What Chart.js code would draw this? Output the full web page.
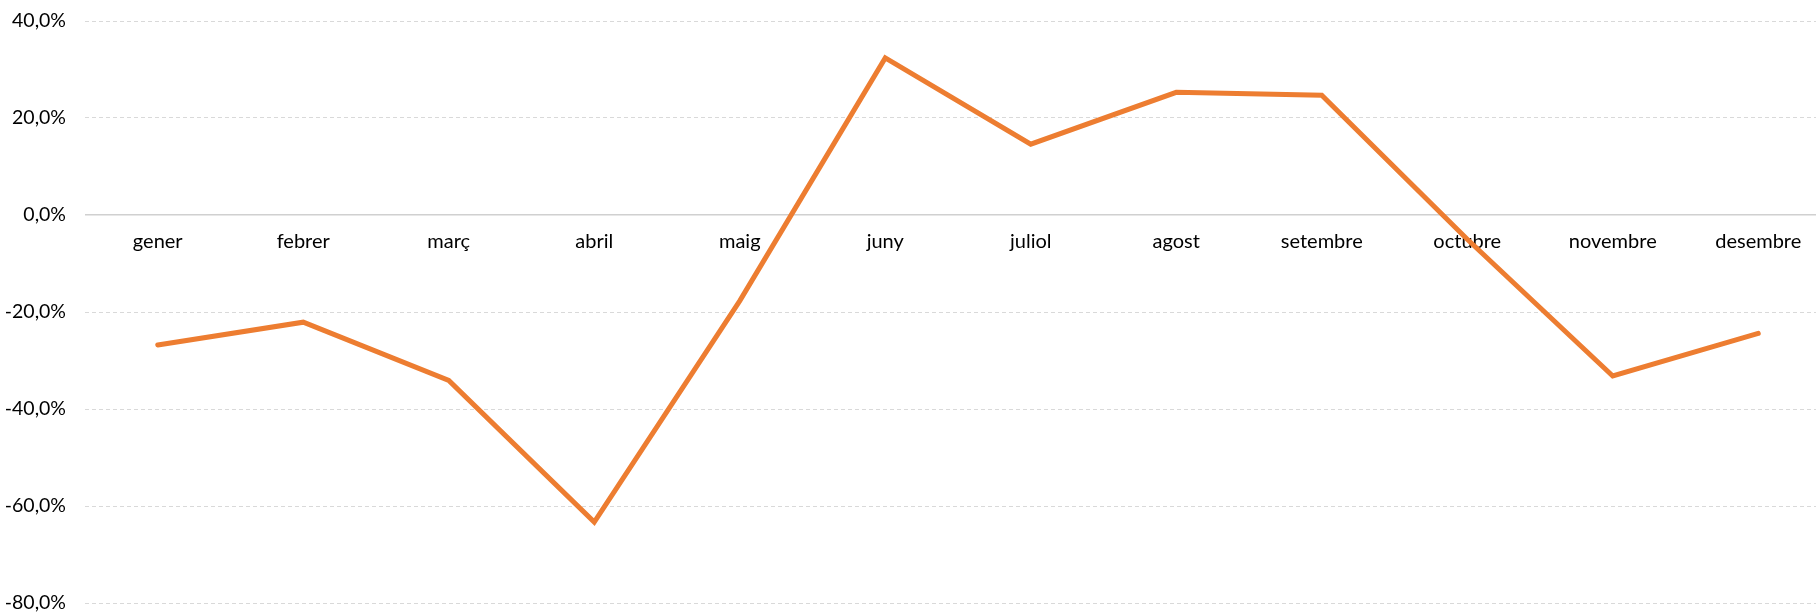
<!DOCTYPE html>
<html>
<head>
<meta charset="utf-8">
<script src="https://cdn.jsdelivr.net/npm/chart.js@4"></script>
<style>
  html, body { margin: 0; padding: 0; overflow: hidden; background: #fff; }
</style>
</head>
<body>
<canvas id="chart" width="1832" height="613"></canvas>
<script>
const months = ['gener', 'febrer', 'març', 'abril', 'maig', 'juny', 'juliol', 'agost', 'setembre', 'octubre', 'novembre', 'desembre'];
const variation = [-26.8, -22.1, -34.1, -63.3, -17.7, 32.4, 14.6, 25.3, 24.7, -5.0, -33.2, -24.4];
const yMin = -80;
const yMax = 40;
const yStep = 20;

const ctx = document.getElementById('chart').getContext('2d');

// chart area is set by layout padding only, not by tick label overhang
const noOverhang = scale => {
  scale.paddingTop = 0;
  scale.paddingBottom = 0;
  scale.paddingLeft = 0;
  scale.paddingRight = 0;
};

const chart = new Chart(ctx, {
  type: 'line',
  data: {
    labels: months,
    datasets: [{
      data: variation,
      borderColor: '#ED7D31',
      borderWidth: 5,
      borderJoinStyle: 'miter',
      borderCapStyle: 'round',
      tension: 0,
      pointRadius: 0,
      fill: false
    }]
  },
  options: {
    responsive: false,
    animation: false,
    layout: {
      padding: { left: 0, right: 1, top: 21, bottom: 10 }
    },
    plugins: {
      legend: { display: false },
      tooltip: { enabled: false }
    },
    scales: {
      x: {
        position: { y: 0 },
        offset: true,
        afterFit: scale => { scale.height = 0; noOverhang(scale); },
        grid: { display: false, drawTicks: false },
        border: { display: false },
        ticks: {
          color: '#000',
          padding: 15,
          maxRotation: 0,
          autoSkip: false,
          font: { family: 'Lato', size: 20 }
        }
      },
      y: {
        min: yMin,
        max: yMax,
        afterFit: scale => { scale.width = 85; noOverhang(scale); },
        grid: {
          drawTicks: false,
          color: c => c.tick && c.tick.value === 0 ? '#d0d0d0' : '#d9d9d9',
          lineWidth: c => c.tick && c.tick.value === 0 ? 1.5 : 1
        },
        border: {
          display: false,
          dash: c => c.tick && c.tick.value === 0 ? [] : [4, 3]
        },
        ticks: {
          stepSize: yStep,
          color: '#000',
          padding: 19,
          font: { family: 'Lato', size: 19.5 },
          callback: v => v.toFixed(1).replace('.', ',') + '%'
        }
      }
    }
  }
});
</script>
</body>
</html>
